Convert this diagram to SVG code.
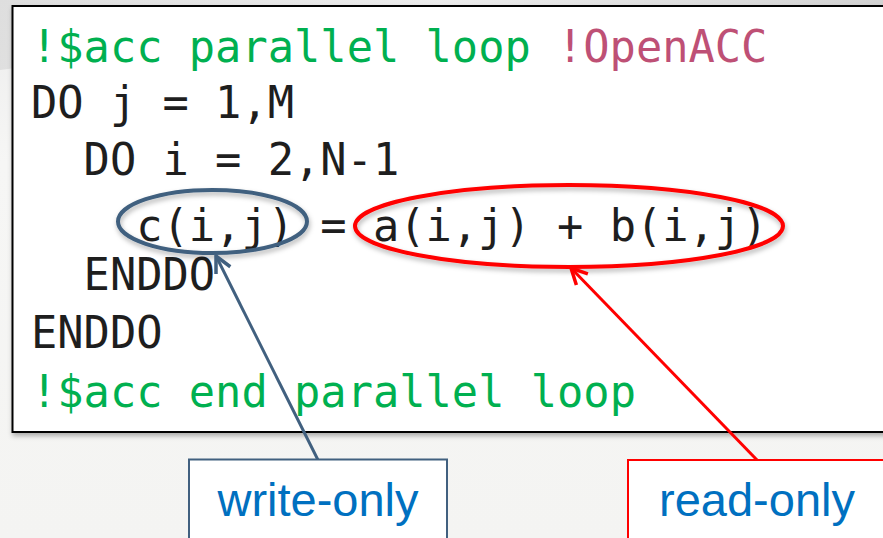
<svg xmlns="http://www.w3.org/2000/svg" width="883" height="538" viewBox="0 0 883 538">
<style>
.code{font-family:"DejaVu Sans Mono","Liberation Mono",monospace;font-size:43.7px;fill:#1e1e1e}
.green{fill:#00B050}
.pink{fill:#BE5075}
.lbl{font-family:"Liberation Sans",Arial,sans-serif;font-size:47px;fill:#0070C0;text-anchor:middle}
</style>
<defs>
<linearGradient id="bg" x1="0" y1="0" x2="0" y2="1">
<stop offset="0" stop-color="#ECECEC"/>
<stop offset="0.3" stop-color="#F6F6F5"/>
<stop offset="1" stop-color="#F4F4F2"/>
</linearGradient>
<linearGradient id="swoosh" x1="0" y1="0" x2="1" y2="0">
<stop offset="0" stop-color="#D8D8D8"/>
<stop offset="0.5" stop-color="#EDEDED"/>
<stop offset="1" stop-color="#C8C8C8"/>
</linearGradient>
<filter id="sh" x="-10%" y="-10%" width="120%" height="130%">
<feDropShadow dx="1" dy="3" stdDeviation="2.5" flood-color="#000" flood-opacity="0.3"/>
</filter>
<marker id="arrBlue" viewBox="0 0 20 20" refX="18" refY="10" markerWidth="20" markerHeight="20" markerUnits="userSpaceOnUse" orient="auto">
<path d="M2,2 L18,10 L2,18" fill="none" stroke="#41607F" stroke-width="3.5"/>
</marker>
<marker id="arrRed" viewBox="0 0 20 20" refX="18" refY="10" markerWidth="20" markerHeight="20" markerUnits="userSpaceOnUse" orient="auto">
<path d="M2,2 L18,10 L2,18" fill="none" stroke="#FF0000" stroke-width="3.5"/>
</marker>
</defs>
<rect width="883" height="538" fill="url(#bg)"/>
<path d="M0,0 H883 V10 C600,8 300,30 0,70 Z" fill="url(#swoosh)" opacity="0.7"/>

<g id="code-box">
<rect x="12.5" y="6" width="900" height="426" fill="#FFFFFF" stroke="#000" stroke-width="2" filter="url(#sh)"/>
<text class="code green" x="31" y="62">!$acc parallel loop <tspan class="pink" x="557">!OpenACC</tspan></text>
<text class="code" x="31" y="118">DO j = 1,M</text>
<text class="code" x="83.6" y="175">DO i = 2,N-1</text>
<text class="code" x="136.2" y="241">c(i,j) = a(i,j) + b(i,j)</text>
<text class="code" x="83.6" y="290">ENDDO</text>
<text class="code" x="31" y="348">ENDDO</text>
<text class="code green" x="31" y="407">!$acc end parallel loop</text>
</g>

<g id="write-highlight">
<ellipse cx="212.5" cy="221.5" rx="94.5" ry="31.5" fill="none" stroke="#41607F" stroke-width="4" filter="url(#sh)"/>
</g>
<g id="read-highlight">
<ellipse cx="569" cy="226" rx="214" ry="41" fill="none" stroke="#FF0000" stroke-width="4" filter="url(#sh)"/>
</g>

<g id="connectors">
<line x1="318" y1="460" x2="216" y2="256" stroke="#41607F" stroke-width="3" marker-end="url(#arrBlue)"/>
<line x1="757" y1="460" x2="571" y2="268" stroke="#FF0000" stroke-width="3" marker-end="url(#arrRed)"/>
</g>

<g id="write-only">
<rect x="189" y="459.5" width="258" height="100" fill="#FFFFFF" stroke="#41607F" stroke-width="2"/>
<text class="lbl" x="318" y="516">write-only</text>
</g>
<g id="read-only">
<rect x="628" y="460" width="300" height="100" fill="#FFFFFF" stroke="#FF0000" stroke-width="2"/>
<text class="lbl" x="757" y="516">read-only</text>
</g>
</svg>
